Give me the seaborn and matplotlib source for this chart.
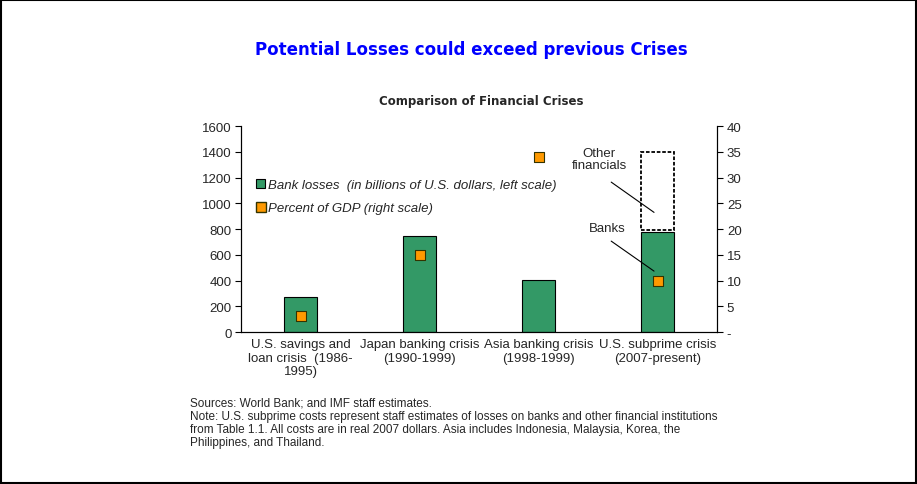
import pandas as pd
import matplotlib.pyplot as plt
import matplotlib.patches as mpatches
import numpy as np
import seaborn as sns

crises = ["U.S. savings and\nloan crisis  (1986-\n1995)", "Japan banking crisis\n(1990-1999)",
          "Asia banking crisis\n(1998-1999)", "U.S. subprime crisis\n(2007-present)"]
bank_losses = [275, 750, 405, 780]
pct_gdp = [3.2, 15, 34, 10]
other_fin_top = 1395

df = pd.DataFrame({"crisis": crises, "losses": bank_losses, "pct": pct_gdp})

sns.set_style("white")
plt.rcParams["font.family"] = ["Liberation Sans", "DejaVu Sans"]

fig = plt.figure(figsize=(9.17, 4.85), dpi=100)
ax = fig.add_axes([0.263, 0.313, 0.519, 0.425])

sns.barplot(data=df, x="crisis", y="losses", color="#339966", width=0.28,
            edgecolor="black", linewidth=0.8, saturation=1, ax=ax)
# dashed box for other financials on top of subprime bar
ax.add_patch(mpatches.Rectangle((3 - 0.14, bank_losses[3] + 15), 0.28,
                                other_fin_top - bank_losses[3] - 15, fill=False,
                                linestyle=(0, (2, 1)), linewidth=1.3, edgecolor="black"))
ax.set_xlim(-0.5, 3.5)
ax.set_ylim(0, 1600)
ax.set_yticks(range(0, 1601, 200))
ax.set_xlabel("")
ax.set_ylabel("")

ax2 = ax.twinx()
sns.scatterplot(x=np.arange(4), y=df["pct"], marker="s", s=50, color="#FF9900",
                edgecolor="#333300", linewidth=0.8, ax=ax2, zorder=5)
ax2.set_ylim(0, 40)
ax2.set_yticks(range(0, 41, 5))
ax2.set_yticklabels(["-"] + [str(v) for v in range(5, 41, 5)])
ax2.set_ylabel("")

for a in (ax, ax2):
    for s in a.spines.values():
        s.set_color("black")
        s.set_linewidth(0.8)
    a.spines["top"].set_visible(False)
    a.tick_params(axis="both", labelsize=9.5, direction="in", length=4, width=0.8, color="black")
ax.tick_params(axis="y", direction="out", length=4, pad=3)
ax2.tick_params(axis="y", direction="out", length=4, pad=3)
ax.tick_params(axis="x", length=0, pad=4)
ax.set_xticks([-0.5, 0.5, 1.5, 2.5, 3.5], minor=True)
ax.tick_params(axis="x", which="minor", direction="out", length=4, width=0.8)

# legend
handles = [mpatches.Patch(facecolor="#339966", edgecolor="black", linewidth=0.8,
                          label="Bank losses  (in billions of U.S. dollars, left scale)"),
           plt.Line2D([], [], marker="s", linestyle="", markersize=7, markerfacecolor="#FF9900",
                      markeredgecolor="#333300", label="Percent of GDP (right scale)")]
leg = ax.legend(handles=handles, loc="upper left", bbox_to_anchor=(0.02, 0.77), frameon=False,
                prop={"style": "italic", "size": 9.5}, handlelength=0.7, handletextpad=0.2,
                labelspacing=0.85, borderaxespad=0)

# callouts
ax.text(2.51, 1345, "Other\nfinancials", ha="center", va="center", fontsize=9.5, linespacing=1.05)
ax.annotate("", xy=(2.97, 930), xytext=(2.61, 1165),
            arrowprops=dict(arrowstyle="-", color="black", lw=0.8, shrinkA=0, shrinkB=0))
ax.text(2.58, 808, "Banks", ha="center", va="center", fontsize=9.5)
ax.annotate("", xy=(2.97, 474), xytext=(2.61, 707),
            arrowprops=dict(arrowstyle="-", color="black", lw=0.8, shrinkA=0, shrinkB=0))

fig.text(0.514, 0.897, "Potential Losses could exceed previous Crises", ha="center", va="center",
         color="#0000FF", fontsize=12, fontweight="bold", family="DejaVu Sans")
fig.text(0.525, 0.79, "Comparison of Financial Crises", ha="center", va="center",
         fontsize=8.5, fontweight="bold", family="DejaVu Sans")
fig.text(0.207, 0.18, "Sources: World Bank; and IMF staff estimates.\n"
         "Note: U.S. subprime costs represent staff estimates of losses on banks and other financial institutions\n"
         "from Table 1.1. All costs are in real 2007 dollars. Asia includes Indonesia, Malaysia, Korea, the\n"
         "Philippines, and Thailand.", ha="left", va="top", fontsize=8.5, linespacing=1.12)

fig.add_artist(mpatches.Rectangle((0.001, 0.002), 0.998, 0.996, transform=fig.transFigure,
                                  fill=False, edgecolor="black", linewidth=1.5))

fig.savefig("out.png", dpi=100)
